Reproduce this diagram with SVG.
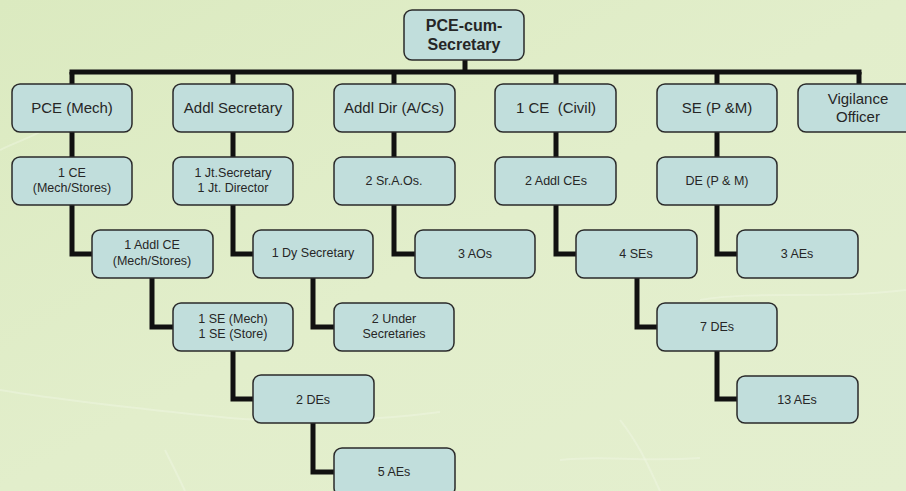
<svg xmlns="http://www.w3.org/2000/svg" width="906" height="491" viewBox="0 0 906 491">
<defs>
<linearGradient id="bg" x1="0" y1="0" x2="1" y2="1">
<stop offset="0" stop-color="#dbeac0"/>
<stop offset="0.5" stop-color="#e2eecb"/>
<stop offset="1" stop-color="#e4efcf"/>
</linearGradient>
<style>
.box{fill:#c1dedc;stroke:#2a2a2a;stroke-width:1.5}
.t{font-family:"Liberation Sans",Arial,sans-serif;fill:#262626;text-anchor:middle}
.l1{font-size:15px}
.l2{font-size:12.5px}
.top{font-size:16px;font-weight:bold}
.c{fill:none;stroke:#111;stroke-width:5;stroke-linejoin:miter;stroke-linecap:butt}
.streak{fill:none;stroke:#f4f8ea;stroke-width:2;opacity:0.35}
</style>
</defs>
<rect width="906" height="491" fill="url(#bg)"/>
<g id="background-texture">
<path class="streak" d="M0 390 C60 400 150 410 230 418 C300 424 380 420 440 412"/>
<path class="streak" d="M165 450 C175 470 180 480 185 491"/>
<path class="streak" d="M620 420 C640 445 650 470 660 491"/>
<path class="streak" d="M700 300 C760 290 820 300 906 290"/>
<path class="streak" d="M0 150 C20 140 40 135 60 120"/>
<path class="streak" d="M560 460 C600 455 640 462 700 458"/>
</g>
<g id="connectors">
<path class="c" d="M465 60 V72"/>
<path class="c" d="M69.5 72 H861.5"/>
<path class="c" d="M72 72 V84 M233 72 V84 M394 72 V84 M556 72 V84 M717 72 V84 M859 72 V84"/>
<path class="c" d="M72 132 V157 M233 132 V157 M394 132 V157 M556 132 V157 M717 132 V157"/>
<path class="c" d="M72 205 V254 H92"/>
<path class="c" d="M233 205 V254 H253"/>
<path class="c" d="M394 205 V254 H415"/>
<path class="c" d="M556 205 V254 H576"/>
<path class="c" d="M717 205 V254 H737"/>
<path class="c" d="M152 278 V327 H173"/>
<path class="c" d="M313 278 V327 H334"/>
<path class="c" d="M637 278 V327 H657"/>
<path class="c" d="M233 351 V399 H253"/>
<path class="c" d="M717 351 V399 H737"/>
<path class="c" d="M313 423 V472 H334"/>
</g>
<g id="pce-cum-secretary">
<rect class="box" x="404" y="10" width="120" height="50" rx="8"/>
<text class="t top" x="464" y="31">PCE-cum-</text>
<text class="t top" x="464" y="50">Secretary</text>
</g>
<g id="pce-mech">
<rect class="box" x="12" y="84" width="120" height="48" rx="8"/>
<text class="t l1" x="72" y="113">PCE (Mech)</text>
</g>
<g id="addl-secretary">
<rect class="box" x="173" y="84" width="120" height="48" rx="8"/>
<text class="t l1" x="233" y="113">Addl Secretary</text>
</g>
<g id="addl-dir">
<rect class="box" x="334" y="84" width="121" height="48" rx="8"/>
<text class="t l1" x="394" y="113">Addl Dir (A/Cs)</text>
</g>
<g id="ce-civil">
<rect class="box" x="495" y="84" width="121" height="48" rx="8"/>
<text class="t l1" x="556" y="113" xml:space="preserve">1 CE  (Civil)</text>
</g>
<g id="se-pm">
<rect class="box" x="657" y="84" width="120" height="48" rx="8"/>
<text class="t l1" x="717" y="113">SE (P &amp;M)</text>
</g>
<g id="vigilance-officer">
<rect class="box" x="798" y="84" width="120" height="48" rx="8"/>
<text class="t l1" x="858" y="104">Vigilance</text>
<text class="t l1" x="858" y="122">Officer</text>
</g>
<g id="ce-mech-stores">
<rect class="box" x="12" y="157" width="120" height="48" rx="8"/>
<text class="t l2" x="72" y="177">1 CE</text>
<text class="t l2" x="72" y="192">(Mech/Stores)</text>
</g>
<g id="jt-secretary">
<rect class="box" x="173" y="157" width="120" height="48" rx="8"/>
<text class="t l2" x="233" y="177">1 Jt.Secretary</text>
<text class="t l2" x="233" y="192">1 Jt. Director</text>
</g>
<g id="sr-aos">
<rect class="box" x="334" y="157" width="121" height="48" rx="8"/>
<text class="t l2" x="394" y="185">2 Sr.A.Os.</text>
</g>
<g id="addl-ces">
<rect class="box" x="495" y="157" width="121" height="48" rx="8"/>
<text class="t l2" x="556" y="185">2 Addl CEs</text>
</g>
<g id="de-pm">
<rect class="box" x="657" y="157" width="120" height="48" rx="8"/>
<text class="t l2" x="717" y="185">DE (P &amp; M)</text>
</g>
<g id="addl-ce-mech-stores">
<rect class="box" x="92" y="230" width="121" height="48" rx="8"/>
<text class="t l2" x="152" y="249">1 Addl CE</text>
<text class="t l2" x="152" y="265">(Mech/Stores)</text>
</g>
<g id="dy-secretary">
<rect class="box" x="253" y="230" width="120" height="48" rx="8"/>
<text class="t l2" x="313" y="257">1 Dy Secretary</text>
</g>
<g id="aos">
<rect class="box" x="415" y="230" width="120" height="48" rx="8"/>
<text class="t l2" x="475" y="258">3 AOs</text>
</g>
<g id="ses">
<rect class="box" x="576" y="230" width="121" height="48" rx="8"/>
<text class="t l2" x="636" y="258">4 SEs</text>
</g>
<g id="aes-3">
<rect class="box" x="737" y="230" width="121" height="48" rx="8"/>
<text class="t l2" x="797" y="258">3 AEs</text>
</g>
<g id="se-mech-store">
<rect class="box" x="173" y="303" width="120" height="48" rx="8"/>
<text class="t l2" x="233" y="323">1 SE (Mech)</text>
<text class="t l2" x="233" y="338">1 SE (Store)</text>
</g>
<g id="under-secretaries">
<rect class="box" x="334" y="303" width="120" height="48" rx="8"/>
<text class="t l2" x="394" y="323">2 Under</text>
<text class="t l2" x="394" y="338">Secretaries</text>
</g>
<g id="des-7">
<rect class="box" x="657" y="303" width="120" height="48" rx="8"/>
<text class="t l2" x="717" y="331">7 DEs</text>
</g>
<g id="des-2">
<rect class="box" x="253" y="375" width="121" height="48" rx="8"/>
<text class="t l2" x="313" y="404">2 DEs</text>
</g>
<g id="aes-13">
<rect class="box" x="737" y="376" width="121" height="47" rx="8"/>
<text class="t l2" x="797" y="404">13 AEs</text>
</g>
<g id="aes-5">
<rect class="box" x="334" y="448" width="121" height="48" rx="8"/>
<text class="t l2" x="394" y="476">5 AEs</text>
</g>
</svg>
